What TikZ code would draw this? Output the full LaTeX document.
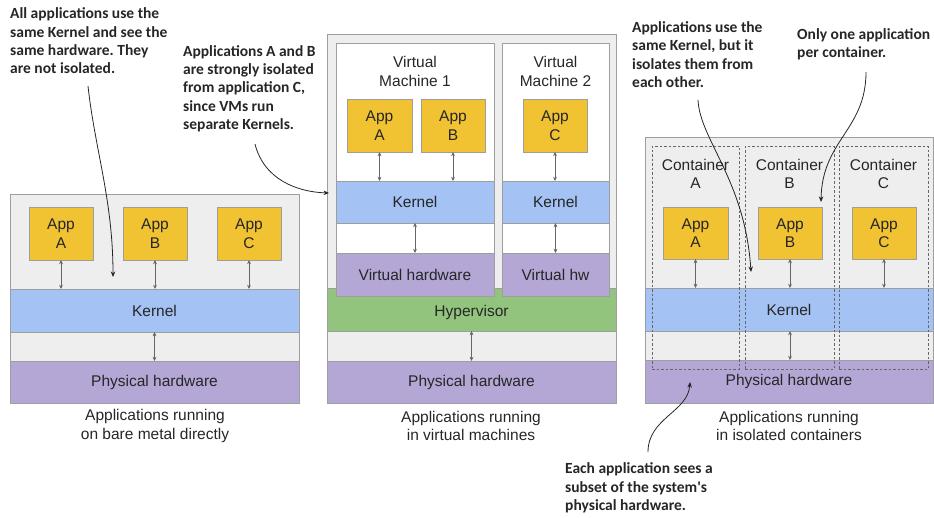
\documentclass[tikz,border=0pt]{standalone}
\usepackage{fontspec}
\setmainfont{Liberation Sans}
\newfontfamily\notefont{Carlito}
\usetikzlibrary{arrows.meta}
\frenchspacing

\definecolor{panelbg}{HTML}{EEEEEE}
\definecolor{edge}{HTML}{9E9E9E}
\definecolor{appy}{HTML}{F1C232}
\definecolor{kernblue}{HTML}{A4C2F4}
\definecolor{hwpurple}{HTML}{B4A7D6}
\definecolor{hypgreen}{HTML}{93C47D}
\definecolor{ink}{HTML}{262626}
\definecolor{wire}{HTML}{666666}

\begin{document}
\begin{tikzpicture}[x=1pt,y=-1pt,
  lab/.style={font=\fontsize{15.5}{18.5}\selectfont, text=ink, align=center},
  box/.style={lab, draw=edge, line width=0.8pt, inner sep=0pt, outer sep=0pt},
  panel/.style={box, fill=panelbg},
  vmbox/.style={box, fill=white},
  appbox/.style={box, fill=appy, minimum width=64pt, minimum height=53pt},
  kern/.style={box, fill=kernblue},
  hw/.style={box, fill=hwpurple},
  hyp/.style={box, fill=hypgreen},
  cont/.style={draw=wire, dashed, dash pattern=on 2.5pt off 2pt, line width=0.6pt, inner sep=0pt},
  title/.style={lab, inner sep=0pt},
  caption/.style={lab, inner sep=0pt},
  note/.style={font=\notefont\bfseries\fontsize{15.5}{18.3}\selectfont, text=ink, align=left, inner sep=0pt, anchor=west},
  dbl/.style={draw=wire, line width=0.7pt, {Stealth[length=4.2pt,width=3.8pt]}-{Stealth[length=4.2pt,width=3.8pt]}},
  callout/.style={draw=ink, line width=0.8pt, -{Stealth[length=5.5pt,width=4.5pt]}}
]
\useasboundingbox (0,0) rectangle (934,517);

% ---------- bare metal ----------
\node[panel, minimum width=289pt, minimum height=209pt] (L) at (154.5,298.5) {};
\node[kern, minimum width=289pt, minimum height=43pt] (Lk) at (154.5,310.5) {Kernel};
\node[hw, minimum width=289pt, minimum height=42pt] (Lp) at (154.5,382) {Physical hardware};
\node[appbox] (La) at (61,233.5) {App\\A};
\node[appbox] (Lb) at (155,233.5) {App\\B};
\node[appbox] (Lc) at (249,233.5) {App\\C};
\foreach \a in {La,Lb,Lc} \draw[dbl] (\a.south) -- (\a.south |- Lk.north);
\draw[dbl] (Lk.south) -- (Lp.north);
\node[caption] (Lcap) at (155,426) {Applications running\\on bare metal directly};

% ---------- virtual machines ----------
\node[panel, minimum width=289pt, minimum height=369pt] (M) at (471.5,218.5) {};
\node[hyp, minimum width=289pt, minimum height=43pt] (Mh) at (471.5,309.5) {};
\node[hw, minimum width=289pt, minimum height=42pt] (Mp) at (471.5,382) {Physical hardware};
\node[vmbox, minimum width=158pt, minimum height=253pt] (V1) at (415,169.5) {};
\node[vmbox, minimum width=107pt, minimum height=253pt] (V2) at (555.5,169.5) {};
\node[title] (Mht) at (471.5,312) {Hypervisor};
\node[title] (V1t) at (415,71.5) {Virtual\\Machine 1};
\node[title] (V2t) at (555.5,71.5) {Virtual\\Machine 2};
\node[appbox, minimum width=65pt] (Ma) at (379.5,125.5) {App\\A};
\node[appbox] (Mb) at (453,125.5) {App\\B};
\node[appbox] (Mc) at (555,125.5) {App\\C};
\node[kern, minimum width=158pt, minimum height=42pt] (K1) at (415,202) {Kernel};
\node[kern, minimum width=107pt, minimum height=42pt] (K2) at (555.5,202) {Kernel};
\node[hw, minimum width=158pt, minimum height=43pt] (H1) at (415,274.5) {Virtual hardware};
\node[hw, minimum width=107pt, minimum height=43pt] (H2) at (555.5,274.5) {Virtual hw};
\draw[dbl] (Ma.south) -- (Ma.south |- K1.north);
\draw[dbl] (Mb.south) -- (Mb.south |- K1.north);
\draw[dbl] (Mc.south) -- (Mc.south |- K2.north);
\draw[dbl] (K1.south) -- (H1.north);
\draw[dbl] (K2.south) -- (H2.north);
\draw[dbl] (Mh.south) -- (Mp.north);
\node[caption] (Mcap) at (471,426) {Applications running\\in virtual machines};

% ---------- containers ----------
\node[panel, minimum width=288pt, minimum height=266pt] (R) at (789,270) {};
\node[kern, minimum width=288pt, minimum height=43pt] (Rk) at (789,309.5) {Kernel};
\node[hw, minimum width=288pt, minimum height=43pt] (Rp) at (789,381.5) {Physical hardware};
\node[appbox, minimum width=65pt, minimum height=52pt] (Ra) at (695.5,233) {App\\A};
\node[appbox, minimum height=52pt] (Rb) at (790,233) {App\\B};
\node[appbox, minimum height=52pt] (Rc) at (884,233) {App\\C};
\node[cont, minimum width=87pt, minimum height=223pt] (CA) at (695.5,257.5) {};
\node[cont, minimum width=89pt, minimum height=223pt] (CB) at (789.5,257.5) {};
\node[cont, minimum width=89pt, minimum height=223pt] (CC) at (883.5,257.5) {};
\node[title] (CAt) at (695.5,174) {Container\\A};
\node[title] (CBt) at (789.5,174) {Container\\B};
\node[title] (CCt) at (883.5,174) {Container\\C};
\foreach \a in {Ra,Rb,Rc} \draw[dbl] (\a.south) -- (\a.south |- Rk.north);
\draw[dbl] (Rk.south -| Rb.south) -- (Rb.south |- Rp.north);
\node[caption] (Rcap) at (789,426) {Applications running\\in isolated containers};

% ---------- callouts ----------
\node[note] (n1) at (10,41) {All applications use the\\same Kernel and see the\\same hardware. They\\are not isolated.};
\node[note] (n2) at (183,88.5) {Applications A and B\\are strongly isolated\\from application C,\\since VMs run\\separate Kernels.};
\node[note] (n3) at (632,54.5) {Applications use the\\same Kernel, but it\\isolates them from\\each other.};
\node[note] (n4) at (797,44.5) {Only one application\\per container.};
\node[note] (n5) at (565,488) {Each application sees a\\subset of the system's\\physical hardware.};

\coordinate (n1s) at (88,86);
\coordinate (n1e) at (113,277);
\coordinate (n2s) at (255,144);
\coordinate (n2e) at (329,193);
\coordinate (n3s) at (698,100);
\coordinate (n3e) at (751,272);
\coordinate (n4s) at (866,72);
\coordinate (n4e) at (821,202);
\coordinate (n5s) at (648,452);
\coordinate (n5e) at (690,382);

\draw[callout] (n1s) .. controls (95,150) and (113,200) .. (n1e);
\draw[callout] (n2s) .. controls (264,180) and (298,192) .. (n2e);
\draw[callout] (n3s) .. controls (700,140) and (745,180) .. (n3e);
\draw[callout] (n4s) .. controls (866,130) and (822,140) .. (n4e);
\draw[callout] (n5s) .. controls (648,418) and (688,412) .. (n5e);
\end{tikzpicture}
\end{document}
